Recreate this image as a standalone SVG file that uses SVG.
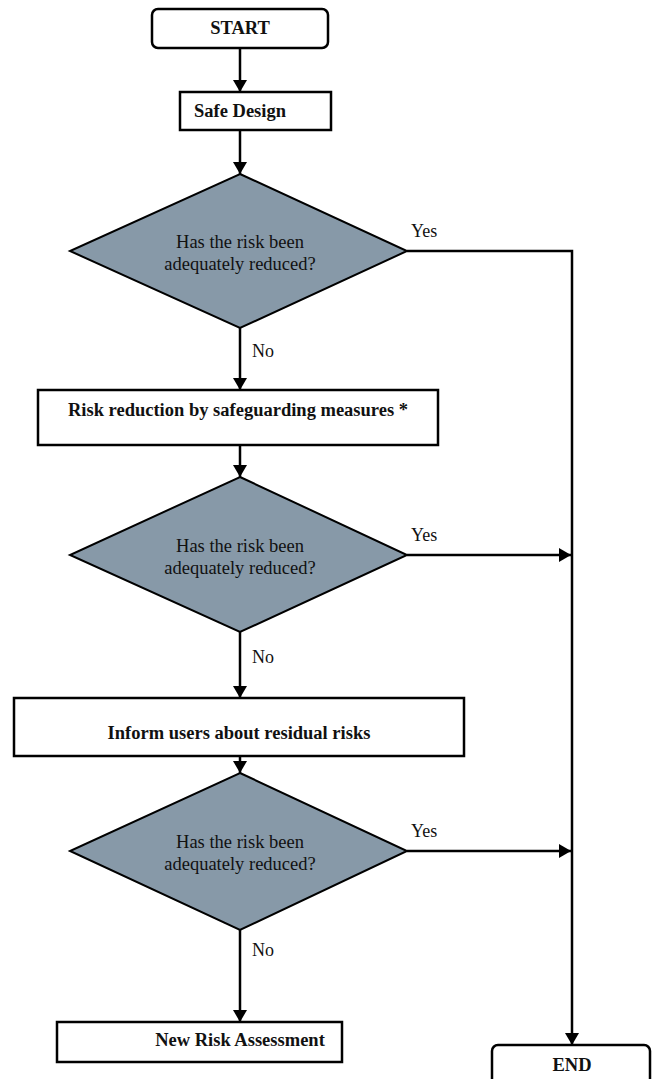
<svg xmlns="http://www.w3.org/2000/svg" width="657" height="1079" viewBox="0 0 657 1079">
  <style>
    .box { fill: #ffffff; stroke: #000000; stroke-width: 2.5; }
    .dec { fill: #8799a8; stroke: #000000; stroke-width: 2; }
    .bt { font-family: "Liberation Serif", "Times New Roman", serif; font-size: 18.5px; font-weight: bold; fill: #111111; text-anchor: middle; }
    .dt { font-family: "Liberation Serif", "Times New Roman", serif; font-size: 18.5px; fill: #111111; text-anchor: middle; }
    .lbl { font-family: "Liberation Serif", "Times New Roman", serif; font-size: 18px; fill: #111111; }
    .wire { fill: none; stroke: #000000; stroke-width: 2.5; }
  </style>
  <defs>
    <marker id="arrow" viewBox="0 0 12 14" refX="12" refY="7" markerWidth="12" markerHeight="14" markerUnits="userSpaceOnUse" orient="auto">
      <path d="M0,0 L12,7 L0,14 Z" fill="#000000"/>
    </marker>
  </defs>

  <rect width="657" height="1079" fill="#ffffff"/>

  <!-- connectors -->
  <g id="connectors">
    <path class="wire" d="M240,48 V92" marker-end="url(#arrow)"/>
    <path class="wire" d="M240,130 V174" marker-end="url(#arrow)"/>
    <path class="wire" d="M240,328 V390" marker-end="url(#arrow)"/>
    <path class="wire" d="M407,251 H572 V1045" marker-end="url(#arrow)"/>
    <path class="wire" d="M240,445 V477" marker-end="url(#arrow)"/>
    <path class="wire" d="M407,555 H571" marker-end="url(#arrow)"/>
    <path class="wire" d="M240,632 V698" marker-end="url(#arrow)"/>
    <path class="wire" d="M240,756 V773" marker-end="url(#arrow)"/>
    <path class="wire" d="M407,851 H571" marker-end="url(#arrow)"/>
    <path class="wire" d="M240,930 V1022" marker-end="url(#arrow)"/>
    <text class="lbl" x="411" y="237">Yes</text>
    <text class="lbl" x="411" y="541">Yes</text>
    <text class="lbl" x="411" y="837">Yes</text>
    <text class="lbl" x="252" y="357">No</text>
    <text class="lbl" x="252" y="663">No</text>
    <text class="lbl" x="252" y="956">No</text>
  </g>

  <g id="start">
    <rect class="box" x="152" y="9" width="176" height="39" rx="6"/>
    <text class="bt" x="240" y="34">START</text>
  </g>

  <g id="safe-design">
    <rect class="box" x="180" y="92" width="151" height="38"/>
    <text class="bt" x="240" y="117">Safe Design</text>
  </g>

  <g id="check-1">
    <polygon class="dec" points="240,174 407,251 240,328 70,251"/>
    <text class="dt" x="240" y="248">Has the risk been</text>
    <text class="dt" x="240" y="270">adequately reduced?</text>
  </g>

  <g id="safeguarding">
    <rect class="box" x="38" y="390" width="400" height="55"/>
    <text class="bt" x="238" y="416">Risk reduction by safeguarding measures *</text>
  </g>

  <g id="check-2">
    <polygon class="dec" points="240,477 407,555 240,632 70,555"/>
    <text class="dt" x="240" y="552">Has the risk been</text>
    <text class="dt" x="240" y="574">adequately reduced?</text>
  </g>

  <g id="inform-users">
    <rect class="box" x="14" y="698" width="450" height="58"/>
    <text class="bt" x="239" y="739">Inform users about residual risks</text>
  </g>

  <g id="check-3">
    <polygon class="dec" points="240,773 407,851 240,930 70,851"/>
    <text class="dt" x="240" y="848">Has the risk been</text>
    <text class="dt" x="240" y="870">adequately reduced?</text>
  </g>

  <g id="new-assessment">
    <rect class="box" x="57" y="1022" width="285" height="40"/>
    <text class="bt" x="240" y="1046">New Risk Assessment</text>
  </g>

  <g id="end">
    <rect class="box" x="492" y="1045" width="158" height="50" rx="6"/>
    <text class="bt" x="572" y="1071">END</text>
  </g>
</svg>
